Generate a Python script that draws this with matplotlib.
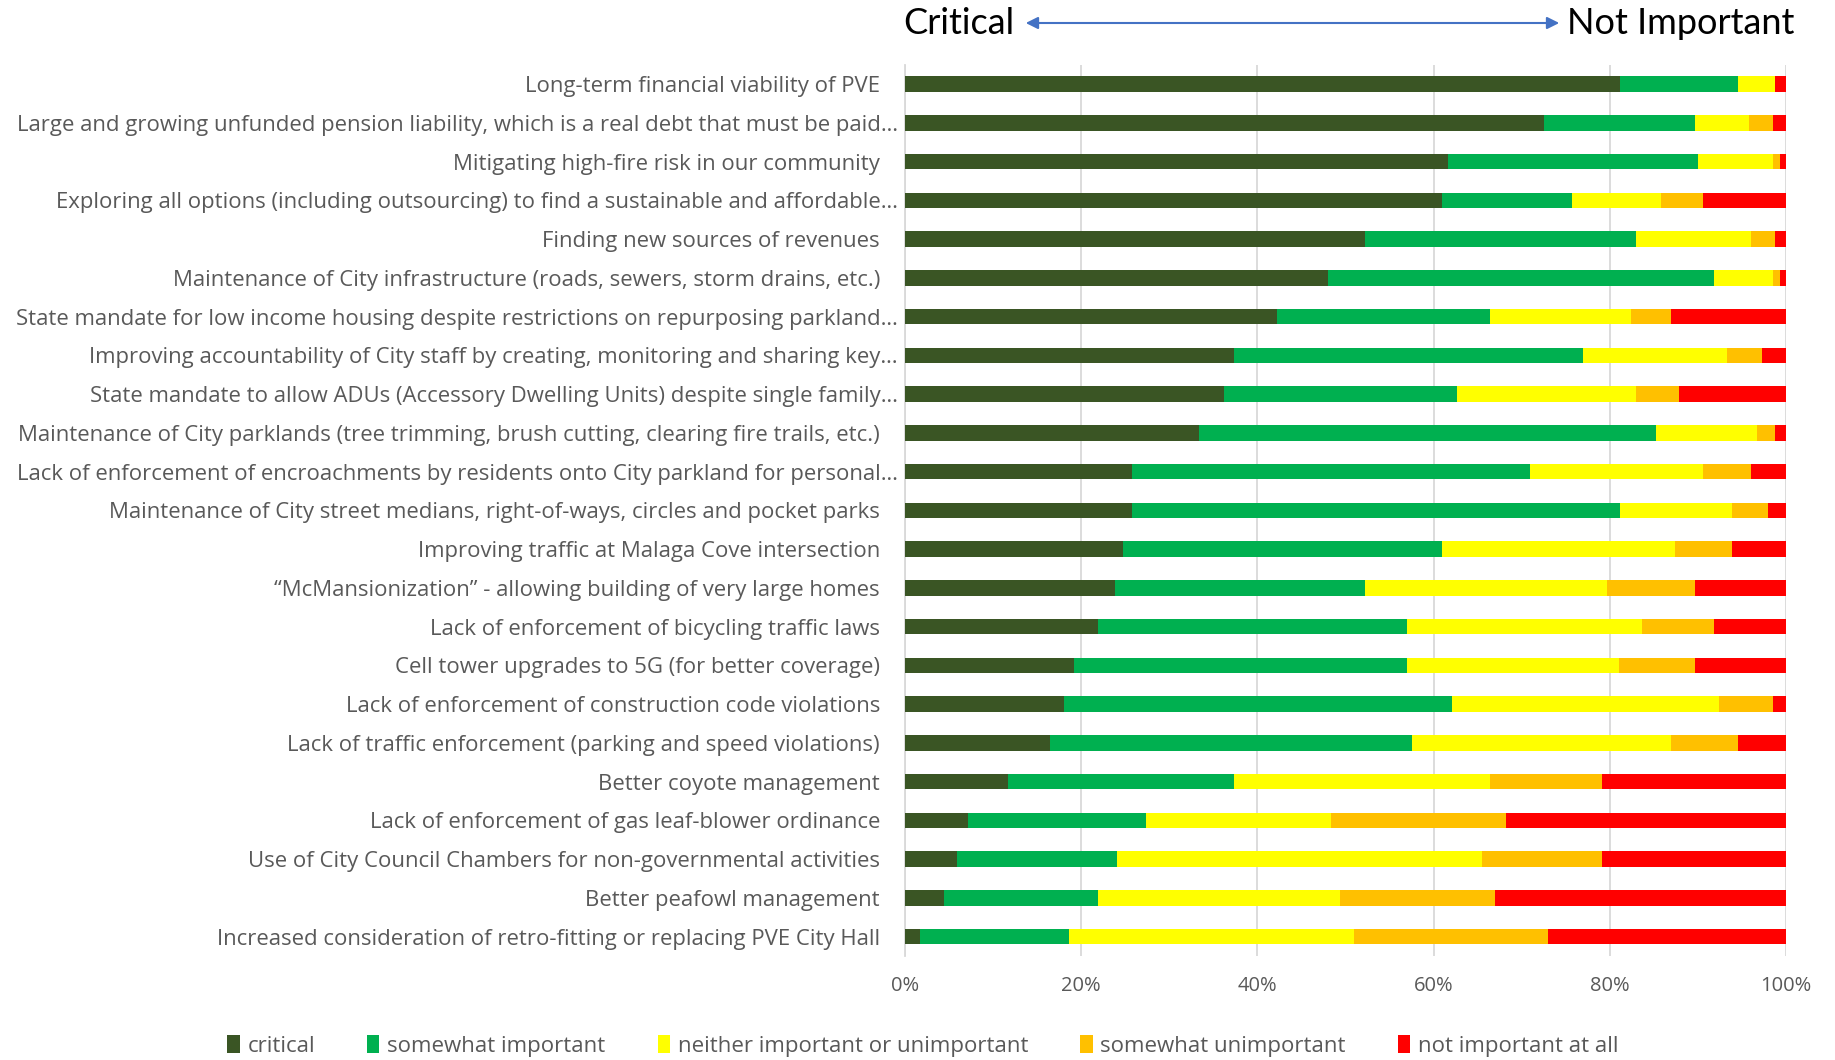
import matplotlib
matplotlib.use("Agg")
import matplotlib.pyplot as plt
import matplotlib.transforms as mtransforms
from matplotlib.patches import Patch, FancyArrowPatch
import numpy as np

plt.rcParams['font.family'] = ['Open Sans', 'DejaVu Sans']

categories = [
    "Long-term financial viability of PVE",
    "Large and growing unfunded pension liability, which is a real debt that must be paid…",
    "Mitigating high-fire risk in our community",
    "Exploring all options (including outsourcing) to find a sustainable and affordable…",
    "Finding new sources of revenues",
    "Maintenance of City infrastructure (roads, sewers, storm drains, etc.)",
    "State mandate for low income housing despite restrictions on repurposing parkland…",
    "Improving accountability of City staff by creating, monitoring and sharing key…",
    "State mandate to allow ADUs (Accessory Dwelling Units) despite single family…",
    "Maintenance of City parklands (tree trimming, brush cutting, clearing fire trails, etc.)",
    "Lack of enforcement of encroachments by residents onto City parkland for personal…",
    "Maintenance of City street medians, right-of-ways, circles and pocket parks",
    "Improving traffic at Malaga Cove intersection",
    "\u201cMcMansionization\u201d - allowing building of very large homes",
    "Lack of enforcement of bicycling traffic laws",
    "Cell tower upgrades to 5G (for better coverage)",
    "Lack of enforcement of construction code violations",
    "Lack of traffic enforcement (parking and speed violations)",
    "Better coyote management",
    "Lack of enforcement of gas leaf-blower ordinance",
    "Use of City Council Chambers for non-governmental activities",
    "Better peafowl management",
    "Increased consideration of retro-fitting or replacing PVE City Hall",
]

critical = [81.2, 72.5, 61.6, 60.9, 52.2, 48.0, 42.2, 37.3, 36.2, 33.4, 25.8, 25.8,
            24.7, 23.8, 21.9, 19.2, 18.0, 16.5, 11.7, 7.1, 5.9, 4.4, 1.7]
somewhat_important = [13.3, 17.2, 28.4, 14.8, 30.8, 43.8, 24.2, 39.7, 26.5, 51.8, 45.1, 55.4,
                      36.3, 28.4, 35.1, 37.8, 44.1, 41.1, 25.6, 20.2, 18.2, 17.5, 16.9]
neither = [4.3, 6.1, 8.5, 10.1, 13.0, 6.7, 16.0, 16.3, 20.3, 11.5, 19.7, 12.7,
           26.4, 27.5, 26.7, 24.0, 30.3, 29.4, 29.1, 21.0, 41.4, 27.5, 32.4]
somewhat_unimportant = [0.0, 2.7, 0.8, 4.8, 2.8, 0.8, 4.6, 4.0, 4.9, 2.1, 5.4, 4.0,
                        6.5, 10.0, 8.1, 8.7, 6.1, 7.5, 12.7, 19.9, 13.6, 17.6, 22.0]
not_important = [1.2, 1.5, 0.7, 9.4, 1.2, 0.7, 13.0, 2.7, 12.1, 1.2, 4.0, 2.1,
                 6.1, 10.3, 8.2, 10.3, 1.5, 5.5, 20.9, 31.8, 20.9, 33.0, 27.0]

series_names = ["critical", "somewhat important", "neither important or unimportant",
                "somewhat unimportant", "not important at all"]
series_values = [critical, somewhat_important, neither, somewhat_unimportant, not_important]
colors = ["#3A5524", "#00B050", "#FFFF00", "#FFC000", "#FF0000"]

xticks = [0, 20, 40, 60, 80, 100]
xtick_labels = ["0%", "20%", "40%", "60%", "80%", "100%"]

fig = plt.figure(figsize=(18.35, 10.6), dpi=100)
ax = fig.add_axes([0.4932, 0.098, 0.4801, 0.841])

y = np.arange(len(categories))
left = np.zeros(len(categories))
for name, vals, c in zip(series_names, series_values, colors):
    vals = np.array(vals)
    ax.barh(y, vals, left=left, height=0.4, color=c, label=name, zorder=3)
    left += vals

ax.set_ylim(len(categories) - 0.5, -0.5)
ax.set_xlim(0, 100)
ax.set_yticks(y)
ax.set_yticklabels(categories, fontsize=15.9, color="#595959")
ax.set_xticks(xticks)
ax.set_xticklabels(xtick_labels, fontsize=14.5, color="#595959")
ax.tick_params(axis='y', length=0, pad=18)
ax.tick_params(axis='x', length=0, pad=14)
ax.grid(axis='x', color="#D9D9D9", linewidth=1.3, zorder=0)
for s in ["top", "right", "bottom"]:
    ax.spines[s].set_visible(False)
ax.spines["left"].set_color("#D9D9D9")
ax.spines["left"].set_linewidth(1.3)

# ellipsis-truncated labels sit a bit closer to the axis
for lbl in ax.get_yticklabels():
    if lbl.get_text().endswith("…"):
        lbl.set_transform(lbl.get_transform() +
                          mtransforms.ScaledTranslation(13 / 72, 0, fig.dpi_scale_trans))

# header
hdr_font = ['Lato', 'DejaVu Sans']
fig.text(903 / 1835, 1 - 24 / 1060, "Critical", fontsize=26, ha="left", va="center",
         color="black", family=hdr_font)
fig.text(1794 / 1835, 1 - 24 / 1060, "Not Important", fontsize=26, ha="right", va="center",
         color="black", family=hdr_font)
fig.patches.append(FancyArrowPatch(
    (1023 / 1835, 1 - 23 / 1060), (1562 / 1835, 1 - 23 / 1060),
    transform=fig.transFigure, arrowstyle="<|-|>", mutation_scale=18,
    color="#4472C4", linewidth=1.5))

handles = [Patch(facecolor=c, label=n) for n, c in zip(series_names, colors)]
leg = fig.legend(handles=handles, loc="center", bbox_to_anchor=(0.503, 1 - 1046 / 1060),
                 ncol=5, frameon=False, fontsize=16, handlelength=0.55, handleheight=0.85,
                 handletextpad=0.35, columnspacing=2.35)
for t in leg.get_texts():
    t.set_color("#595959")

fig.savefig("out.png", dpi=100, facecolor="white")
